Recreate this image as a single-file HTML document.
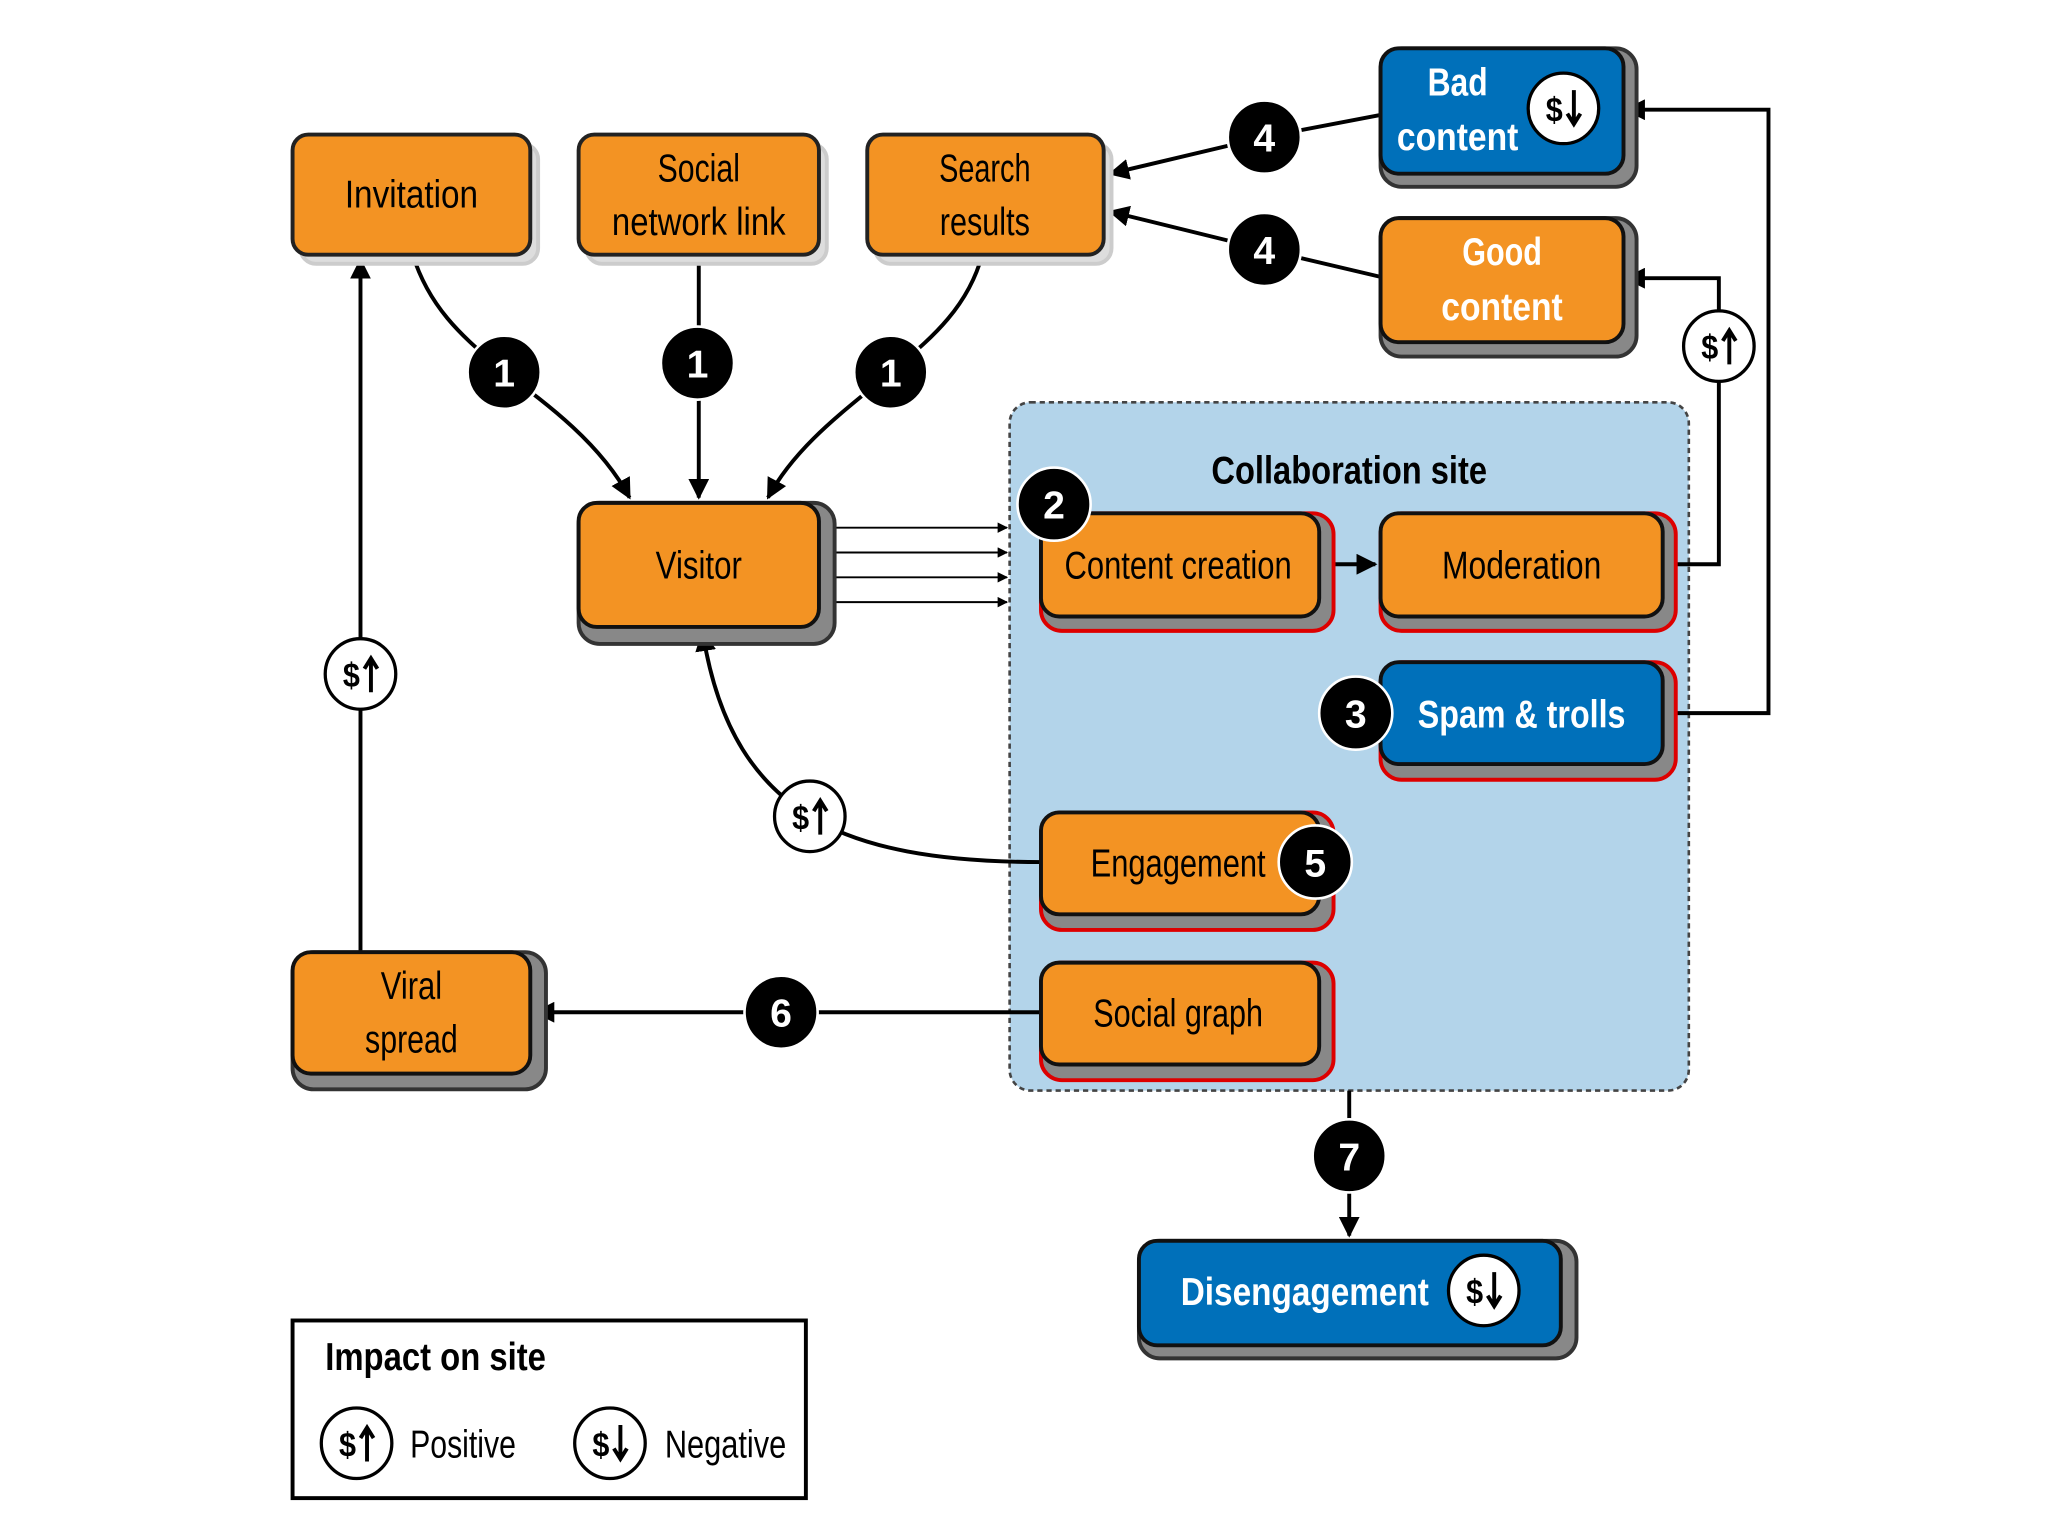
<!DOCTYPE html>
<html><head><meta charset="utf-8"><style>
html,body{margin:0;padding:0;background:#fff;}
svg{display:block;}
text{font-family:"Liberation Sans",sans-serif;}
</style></head><body>
<svg width="2048" height="1536" viewBox="0 0 1568 1176" xmlns="http://www.w3.org/2000/svg">
<defs>
<marker id="a" viewBox="0 0 10 10" refX="9" refY="5" markerWidth="8" markerHeight="8" orient="auto-start-reverse" markerUnits="userSpaceOnUse"><path d="M0,0L10,5L0,10z" fill="#000"/></marker>
<marker id="b" viewBox="0 0 10 10" refX="9" refY="5" markerWidth="16" markerHeight="16" orient="auto-start-reverse" markerUnits="userSpaceOnUse"><path d="M0,0L10,5L0,10z" fill="#000"/></marker>
<g id="up"><circle r="27" fill="#fff" stroke="#000" stroke-width="2.5"/><text x="-7" y="10" font-size="26" font-weight="bold" text-anchor="middle" textLength="13" lengthAdjust="spacingAndGlyphs">$</text><path d="M8,14V-10M3,-4L8,-12L13,-4" stroke="#000" stroke-width="3" fill="none"/></g>
<g id="dn"><circle r="27" fill="#fff" stroke="#000" stroke-width="2.5"/><text x="-7" y="10" font-size="26" font-weight="bold" text-anchor="middle" textLength="13" lengthAdjust="spacingAndGlyphs">$</text><path d="M8,-14V10M3,4L8,12L13,4" stroke="#000" stroke-width="3" fill="none"/></g>
</defs>

<rect x="773" y="308" width="520" height="527" rx="16" fill="#B3D4EA" stroke="#444" stroke-width="2" stroke-dasharray="4,3"/>
<text x="1033" y="370" font-size="30" font-weight="bold" text-anchor="middle" textLength="211" lengthAdjust="spacingAndGlyphs">Collaboration site</text>

<g stroke="#000" stroke-width="3" fill="none">
<path d="M316,195 C330,240 360,262 386,285 C420,310 460,340 482,381" marker-end="url(#b)"/>
<path d="M535,195 V381" marker-end="url(#b)"/>
<path d="M752,195 C740,240 705,265 682,285 C650,312 610,340 588,381" marker-end="url(#b)"/>
<path d="M1057,88 L968,105 L850,133" marker-end="url(#b)"/>
<path d="M1057,212 L968,191 L850,162" marker-end="url(#b)"/>
<path d="M1010,432 H1053" marker-end="url(#b)"/>
<path d="M1273,432 H1316 V213 H1245" marker-end="url(#b)"/>
<path d="M1273,546 H1354 V84 H1245" marker-end="url(#b)"/>
<path d="M797,660 C720,660 660,650 620,625 C580,600 550,560 538,484" marker-end="url(#b)"/>
<path d="M797,775 H410" marker-end="url(#b)"/>
<path d="M276,729 V199" marker-end="url(#b)"/>
<path d="M1033,835 V946" marker-end="url(#b)"/>
</g>
<g stroke="#000" stroke-width="1.5">
<path d="M627,404H771" marker-end="url(#a)"/><path d="M627,423H771" marker-end="url(#a)"/><path d="M627,442H771" marker-end="url(#a)"/><path d="M627,461H771" marker-end="url(#a)"/>
</g>

<g stroke-width="3">
<g><rect x="230" y="110" width="182" height="92" rx="12" fill="#ddd" stroke="#ccc"/><rect x="224" y="103" width="182" height="92" rx="12" fill="#F39323" stroke="#222"/></g>
<g><rect x="449" y="110" width="184" height="92" rx="12" fill="#ddd" stroke="#ccc"/><rect x="443" y="103" width="184" height="92" rx="12" fill="#F39323" stroke="#222"/></g>
<g><rect x="670" y="110" width="181" height="92" rx="12" fill="#ddd" stroke="#ccc"/><rect x="664" y="103" width="181" height="92" rx="12" fill="#F39323" stroke="#222"/></g>
<g><rect x="1057" y="37" width="196" height="106" rx="16" fill="#888" stroke="#333"/><rect x="1057" y="37" width="186" height="96" rx="14" fill="#0070BA" stroke="#111"/></g>
<g><rect x="1057" y="167" width="196" height="106" rx="16" fill="#888" stroke="#333"/><rect x="1057" y="167" width="186" height="95" rx="14" fill="#F39323" stroke="#111"/></g>
<g><rect x="443" y="385" width="196" height="108" rx="16" fill="#888" stroke="#333"/><rect x="443" y="385" width="184" height="95" rx="14" fill="#F39323" stroke="#111"/></g>
<g><rect x="797" y="393" width="224" height="90" rx="16" fill="#888" stroke="#d00"/><rect x="797" y="393" width="213" height="79" rx="14" fill="#F39323" stroke="#111"/></g>
<g><rect x="1057" y="393" width="226" height="90" rx="16" fill="#888" stroke="#d00"/><rect x="1057" y="393" width="216" height="79" rx="14" fill="#F39323" stroke="#111"/></g>
<g><rect x="1057" y="507" width="226" height="90" rx="16" fill="#888" stroke="#d00"/><rect x="1057" y="507" width="216" height="78" rx="14" fill="#0070BA" stroke="#111"/></g>
<g><rect x="797" y="622" width="224" height="90" rx="16" fill="#888" stroke="#d00"/><rect x="797" y="622" width="213" height="78" rx="14" fill="#F39323" stroke="#111"/></g>
<g><rect x="797" y="737" width="224" height="90" rx="16" fill="#888" stroke="#d00"/><rect x="797" y="737" width="213" height="78" rx="14" fill="#F39323" stroke="#111"/></g>
<g><rect x="224" y="729" width="194" height="105" rx="16" fill="#888" stroke="#333"/><rect x="224" y="729" width="182" height="93" rx="14" fill="#F39323" stroke="#111"/></g>
<g><rect x="872" y="950" width="335" height="90" rx="16" fill="#888" stroke="#333"/><rect x="872" y="950" width="323" height="80" rx="14" fill="#0070BA" stroke="#111"/></g>
</g>

<g font-size="30" text-anchor="middle" lengthAdjust="spacingAndGlyphs">
<text x="315" y="159" textLength="102" lengthAdjust="spacingAndGlyphs">Invitation</text>
<text x="535" y="139" textLength="63" lengthAdjust="spacingAndGlyphs">Social</text><text x="535" y="180" textLength="133" lengthAdjust="spacingAndGlyphs">network link</text>
<text x="754" y="139" textLength="70" lengthAdjust="spacingAndGlyphs">Search</text><text x="754" y="180" textLength="69" lengthAdjust="spacingAndGlyphs">results</text>
<text x="535" y="443" textLength="66" lengthAdjust="spacingAndGlyphs">Visitor</text>
<text x="902" y="443" textLength="174" lengthAdjust="spacingAndGlyphs">Content creation</text>
<text x="1165" y="443" textLength="122" lengthAdjust="spacingAndGlyphs">Moderation</text>
<text x="902" y="671" textLength="134" lengthAdjust="spacingAndGlyphs">Engagement</text>
<text x="902" y="786" textLength="130" lengthAdjust="spacingAndGlyphs">Social graph</text>
<text x="315" y="765" textLength="47" lengthAdjust="spacingAndGlyphs">Viral</text><text x="315" y="806" textLength="71" lengthAdjust="spacingAndGlyphs">spread</text>
</g>
<g font-size="30" font-weight="bold" fill="#fff" text-anchor="middle">
<text x="1116" y="73" textLength="46" lengthAdjust="spacingAndGlyphs">Bad</text><text x="1116" y="115" textLength="93" lengthAdjust="spacingAndGlyphs">content</text>
<text x="1150" y="203" textLength="61" lengthAdjust="spacingAndGlyphs">Good</text><text x="1150" y="245" textLength="93" lengthAdjust="spacingAndGlyphs">content</text>
<text x="1165" y="557" textLength="159" lengthAdjust="spacingAndGlyphs">Spam &amp; trolls</text>
<text x="999" y="999" textLength="190" lengthAdjust="spacingAndGlyphs">Disengagement</text>
</g>
<use href="#dn" x="1197" y="83"/>
<use href="#dn" x="1136" y="988"/>
<use href="#up" x="1316" y="265"/>
<use href="#up" x="620" y="625"/>
<use href="#up" x="276" y="516"/>

<g fill="#000" stroke="#fff" stroke-width="2">
<circle cx="386" cy="285" r="28"/><circle cx="534" cy="278" r="28"/><circle cx="682" cy="285" r="28"/>
<circle cx="968" cy="105" r="28"/><circle cx="968" cy="191" r="28"/>
<circle cx="807" cy="386" r="28"/><circle cx="1038" cy="546" r="28"/><circle cx="1007" cy="660" r="28"/>
<circle cx="598" cy="775" r="28"/><circle cx="1033" cy="885" r="28"/>
</g>
<g fill="#fff" font-size="30" font-weight="bold" text-anchor="middle">
<text x="386" y="296">1</text><text x="534" y="289">1</text><text x="682" y="296">1</text>
<text x="968" y="116">4</text><text x="968" y="202">4</text>
<text x="807" y="397">2</text><text x="1038" y="557">3</text><text x="1007" y="671">5</text>
<text x="598" y="786">6</text><text x="1033" y="896">7</text>
</g>

<rect x="224" y="1011" width="393" height="136" fill="#fff" stroke="#000" stroke-width="3"/>
<text x="249" y="1049" font-size="30" font-weight="bold" textLength="169" lengthAdjust="spacingAndGlyphs">Impact on site</text>
<use href="#up" x="273" y="1105"/>
<text x="314" y="1116" font-size="30" textLength="81" lengthAdjust="spacingAndGlyphs">Positive</text>
<use href="#dn" x="467" y="1105"/>
<text x="509" y="1116" font-size="30" textLength="93" lengthAdjust="spacingAndGlyphs">Negative</text>
</svg>
</body></html>
